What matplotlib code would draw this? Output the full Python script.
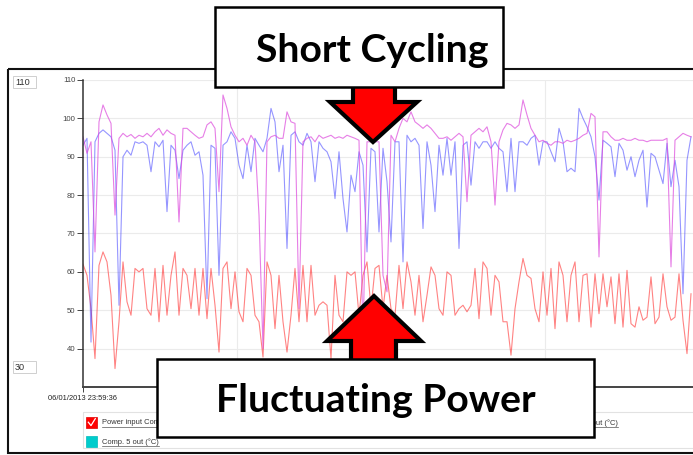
import numpy as np
import matplotlib
matplotlib.use('Agg')
import matplotlib.pyplot as plt
from matplotlib.patches import Rectangle, Polygon

# ---------------- data ----------------
power = [
    62.0, 59.1, 50.4, 37.4, 61.7, 65.2, 62.6, 53.9, 34.8, 47.0, 62.6, 52.2, 48.7, 60.9, 60.0, 60.9, 50.4, 48.7, 60.9, 47.0, 61.7, 48.7, 59.1, 65.2, 48.7, 60.9,
    59.1, 50.4, 60.9, 48.7, 60.9, 47.8, 60.9, 51.3, 39.1, 60.9, 62.6, 50.4, 60.0, 49.6, 47.0, 60.9, 59.1, 48.7, 47.0, 37.8, 62.6, 59.1, 45.2, 59.1, 47.0,
    39.1, 48.7, 60.9, 47.0, 61.7, 47.0, 61.7, 48.7, 51.3, 52.2, 51.3, 37.4, 59.1, 48.7, 47.0, 60.0, 59.1, 60.0, 48.7, 59.1, 62.6, 50.4, 60.9, 61.7, 50.4,
    59.1, 50.4, 48.7, 61.7, 50.4, 62.6, 57.4, 48.7, 59.1, 47.0, 53.9, 61.3, 59.1, 50.4, 48.7, 60.0, 59.1, 48.7, 50.4, 51.3, 49.6, 51.3, 60.9, 47.8, 62.6,
    60.9, 48.7, 59.1, 57.4, 47.0, 47.0, 38.3, 50.4, 57.4, 63.5, 59.1, 58.3, 50.4, 47.0, 60.0, 48.7, 60.9, 45.2, 62.6, 59.1, 47.0, 59.1, 62.6, 47.0, 59.1,
    59.5, 45.6, 59.5, 49.1, 59.5, 50.9, 58.7, 46.5, 59.5, 45.6, 60.4, 46.5, 45.6, 50.9, 47.4, 48.2, 58.7, 46.5, 48.2, 59.5, 50.9, 47.4, 48.2, 59.5, 47.4, 38.7, 54.3,
]
comp_blue = [
    93.0, 94.8, 41.7, 93.9, 96.1, 97.0, 96.1, 95.2, 91.7, 51.3, 90.0, 91.7, 90.4, 93.9, 93.5, 93.9, 93.0, 86.1, 93.9, 92.6, 94.3, 75.7, 93.0, 91.7, 84.3, 91.7,
    93.0, 93.9, 90.4, 91.3, 85.2, 53.0, 93.0, 92.2, 59.1, 93.0, 93.9, 96.5, 94.8, 87.8, 84.3, 93.0, 86.1, 94.8, 93.0, 91.3, 94.8, 102.6, 99.1, 86.1, 93.0,
    66.1, 95.6, 96.5, 93.9, 93.0, 96.1, 93.9, 83.5, 93.9, 92.2, 91.3, 88.7, 79.1, 91.3, 79.1, 70.4, 85.2, 80.9, 91.3, 87.8, 65.2, 92.2, 91.3, 70.4, 92.2,
    83.5, 67.8, 93.9, 93.9, 62.6, 95.6, 93.9, 94.8, 93.0, 71.3, 93.9, 87.8, 75.7, 93.0, 85.2, 94.8, 85.2, 93.9, 66.1, 93.0, 93.9, 82.6, 93.9, 92.2, 93.9,
    93.9, 92.2, 93.9, 92.2, 91.3, 80.9, 94.8, 80.9, 93.9, 93.9, 93.0, 94.8, 95.6, 87.8, 93.9, 93.9, 91.3, 88.7, 97.4, 93.9, 86.1, 87.0, 86.1, 102.6, 100.0,
    97.8, 95.2, 90.0, 78.7, 94.3, 93.5, 92.6, 84.8, 93.5, 91.7, 86.5, 90.0, 84.8, 89.1, 91.7, 76.9, 90.9, 90.0, 86.5, 83.0, 93.5, 82.2, 89.1, 82.2, 54.3, 89.1, 95.2,
]
comp_pink = [
    95.2, 90.9, 93.9, 65.2, 99.1, 103.5, 100.9, 98.7, 74.8, 94.8, 96.1, 95.2, 95.8, 94.8, 95.6, 95.2, 96.1, 95.2, 96.5, 97.4, 95.6, 97.0, 96.1, 95.6, 73.0, 97.4,
    97.4, 96.5, 95.6, 94.8, 95.2, 98.3, 99.1, 97.4, 80.9, 106.1, 102.6, 97.8, 95.6, 93.9, 94.8, 93.0, 95.6, 93.9, 74.8, 40.0, 93.9, 95.2, 95.6, 94.8, 94.8,
    101.7, 99.1, 98.7, 50.4, 93.9, 94.8, 95.2, 93.9, 95.6, 94.8, 95.2, 95.6, 94.8, 95.2, 94.8, 95.6, 95.2, 94.8, 94.3, 41.7, 93.9, 93.9, 93.9, 93.9, 59.1,
    54.8, 95.6, 93.9, 97.4, 100.0, 99.1, 101.7, 99.1, 98.3, 97.4, 98.3, 97.4, 96.1, 94.8, 94.8, 95.2, 94.3, 95.2, 96.1, 95.2, 78.3, 95.6, 96.5, 97.4, 96.5,
    97.8, 93.9, 77.4, 93.9, 97.0, 98.7, 98.3, 97.4, 98.3, 104.8, 100.9, 97.4, 95.6, 93.9, 94.3, 93.5, 93.0, 93.9, 93.9, 93.5, 94.3, 93.9, 94.3, 94.8, 95.6,
    96.1, 101.3, 100.4, 63.9, 96.5, 96.5, 95.2, 94.3, 94.3, 94.8, 94.3, 94.3, 94.8, 94.3, 94.3, 93.9, 94.3, 94.3, 94.3, 94.3, 94.8, 61.3, 94.3, 95.2, 96.1, 95.6, 95.2,
]
t = np.arange(len(power))

y_ticks = [40, 50, 60, 70, 80, 90, 100, 110]
x_grid = [38.5, 115.5]
start_label = '06/01/2013 23:59:36'
legend_labels = ['Power input Comp. 5 (kW)', 'Comp. 5 out (°C)', 'Comp. 4 out (°C)']
range_labels = ['110', '30']
annotations = ['Short Cycling', 'Fluctuating Power']

# ---------------- figure ----------------
W, H = 693, 455
plt.rcParams['font.family'] = ['Liberation Sans', 'DejaVu Sans']
fig = plt.figure(figsize=(W / 100, H / 100), dpi=100)
ax = fig.add_axes([83 / W, 1 - 387 / H, 1 - 83 / W, (387 - 80) / H])

ax.plot(t, power, color='#ff3030', lw=0.8, alpha=0.6)
ax.plot(t, comp_blue, color='#3f3fff', lw=0.8, alpha=0.55)
ax.plot(t, comp_pink, color='#dc48dc', lw=0.8, alpha=0.7)

ax.set_xlim(0, 152.5)
ax.set_ylim(30, 110)
ax.set_yticks(y_ticks)
ax.set_yticklabels([str(v) for v in y_ticks])
ax.grid(axis='y', color='#ebebeb', lw=0.8)
for xg in x_grid:
    ax.axvline(xg, color='#ebebeb', lw=0.8, zorder=0)
ax.set_axisbelow(True)
ax.set_xticks([0])
ax.set_xticklabels([start_label])
ax.tick_params(axis='y', length=4.3, width=0.7, color='#444', pad=1.2,
               labelsize=5.6, labelcolor='#444')
ax.tick_params(axis='x', length=3.5, width=0.7, color='#444', pad=2.5,
               labelsize=5.4, labelcolor='#222')
for s in ['top', 'right']:
    ax.spines[s].set_visible(False)
ax.spines['left'].set_color('#333')
ax.spines['left'].set_linewidth(1.1)
ax.spines['bottom'].set_color('#444')
ax.spines['bottom'].set_linewidth(1.4)

# ---------------- overlay (frame, legend, annotations) ----------------
ov = fig.add_axes([0, 0, 1, 1], zorder=5)
ov.set_xlim(0, W)
ov.set_ylim(H, 0)
ov.axis('off')

ov.add_patch(Rectangle((8, 69), 720, 384, fill=False, ec='#111', lw=1.5, clip_on=False))

# range boxes
for lab, yt in zip(range_labels, [76, 361]):
    ov.add_patch(Rectangle((13, yt), 23, 12, fc='white', ec='#cfcfcf', lw=0.7))
    ov.text(15, yt + 6.3, lab, fontsize=6.6, ha='left', va='center', color='#333')

# legend area
ov.add_patch(Rectangle((83, 412), 640, 36, fill=False, ec='#e2e2e2', lw=0.8, clip_on=False))
ov.add_patch(Rectangle((86, 417), 11, 11, fc='#ff0000', ec='#dd0000', lw=0.5))
ov.plot([88.3, 91.0, 95.3], [422.2, 425.6, 418.6], color='white', lw=0.9)
ov.add_patch(Rectangle((86, 436), 11, 11, fc='#00cccc', ec='#00bbbb', lw=0.5))
ov.add_patch(Rectangle((545, 417), 11, 11, fc='#00aa00', ec='#009900', lw=0.5))
leg_texts = [
    ov.text(102, 423, legend_labels[0], fontsize=5.4, ha='left', va='center', color='#333'),
    ov.text(102, 442, legend_labels[1], fontsize=5.4, ha='left', va='center', color='#333'),
    ov.text(618, 423, legend_labels[2], fontsize=5.4, ha='right', va='center', color='#333'),
]
fig.canvas.draw()
for txt in leg_texts:
    bb = txt.get_window_extent()
    yy = H - bb.y0 + 0.2
    ov.plot([bb.x0, bb.x1], [yy, yy], color='#555', lw=0.5)

# arrows
down = [(353, 80), (353, 102), (330, 102), (373, 142), (417, 102), (395, 102), (395, 80)]
up = [(351, 366), (351, 341), (327, 341), (374, 296), (421, 341), (396, 341), (396, 366)]
for pts in (down, up):
    ov.add_patch(Polygon(pts, closed=True, fc='#ff0000', ec='black', lw=3.0,
                         joinstyle='miter', zorder=3))

# boxes with text
ov.add_patch(Rectangle((215, 7), 288, 80, fc='white', ec='black', lw=1.8, zorder=4))
ov.add_patch(Rectangle((157, 359), 437, 78, fc='white', ec='black', lw=1.8, zorder=4))
ov.text(372.5, 62.5, annotations[0], fontsize=28.2, fontweight='bold', family='Lato',
        ha='center', va='baseline', color='black', zorder=5)
ov.text(376, 411.5, annotations[1], fontsize=28.2, fontweight='bold', family='Lato',
        ha='center', va='baseline', color='black', zorder=5)

fig.savefig('out.png', dpi=100)
